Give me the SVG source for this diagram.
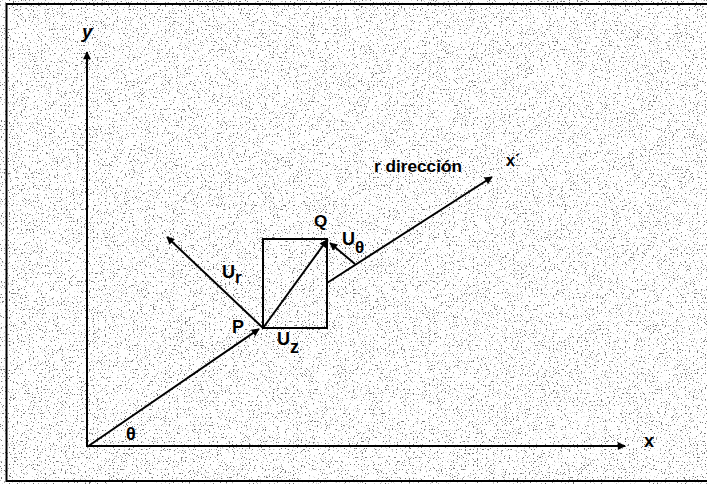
<svg xmlns="http://www.w3.org/2000/svg" width="707" height="484" viewBox="0 0 707 484">
  <style>
    .ln { stroke: #000; stroke-width: 2; fill: none; }
    .lbl { font-family: "Liberation Sans", Arial, sans-serif; font-weight: bold; fill: #000; }
  </style>
  <defs>
    <marker id="arr" viewBox="0 0 10 10" refX="9" refY="5" markerWidth="10" markerHeight="8" markerUnits="userSpaceOnUse" orient="auto">
      <path d="M0,0 L10,5 L0,10 z" fill="#000"/>
    </marker>
    <filter id="noise" x="0" y="0" width="100%" height="100%">
      <feTurbulence type="fractalNoise" baseFrequency="0.75" numOctaves="1" seed="7" result="t"/>
      <feColorMatrix in="t" type="matrix" values="0 0 0 0 0  0 0 0 0 0  0 0 0 0 0  14 0 0 0 -8.6"/>
    </filter>
  </defs>

  <rect id="paper" x="0" y="0" width="707" height="484" fill="#fff"/>
  <rect id="speckle" x="0" y="0" width="707" height="484" fill="#000" filter="url(#noise)" opacity="0.55"/>
  <path id="frame" d="M707,4 H6.5 V481 H707" class="ln" stroke-width="2.5"/>

  <g id="connectors">
    <line id="y-axis" x1="87" y1="447" x2="87" y2="52" class="ln" marker-end="url(#arr)"/>
    <line id="x-axis" x1="87" y1="446" x2="625" y2="446" class="ln" marker-end="url(#arr)"/>
    <line id="op" x1="87" y1="447" x2="259" y2="329" class="ln" marker-end="url(#arr)"/>
    <line id="ur" x1="263" y1="328" x2="167" y2="237" class="ln" marker-end="url(#arr)"/>
    <line id="pq" x1="263" y1="328" x2="327" y2="240" class="ln" marker-end="url(#arr)"/>
    <line id="rdir" x1="327" y1="283" x2="492" y2="177" class="ln" marker-end="url(#arr)"/>
    <line id="utheta" x1="355" y1="264" x2="330" y2="243" class="ln" marker-end="url(#arr)"/>
  </g>

  <g id="square">
    <rect x="263" y="239" width="64" height="89" class="ln"/>
  </g>

  <g id="label-y"><text class="lbl" x="82" y="38" font-size="19" font-style="italic">y</text></g>
  <g id="label-x"><text class="lbl" x="644" y="447" font-size="18">x</text></g>
  <g id="label-theta"><text class="lbl" x="126" y="440" font-size="18">θ</text></g>
  <g id="label-P"><text class="lbl" x="232" y="333" font-size="18">P</text></g>
  <g id="label-Q"><text class="lbl" x="314" y="227" font-size="17">Q</text></g>
  <g id="label-Ur"><text class="lbl" x="222" y="278" font-size="18">U<tspan font-size="17" dy="5">r</tspan></text></g>
  <g id="label-Uz"><text class="lbl" x="277" y="345" font-size="18">U<tspan font-size="18" dy="8">z</tspan></text></g>
  <g id="label-Utheta"><text class="lbl" x="342" y="245" font-size="18">U<tspan font-size="17" dy="8">θ</tspan></text></g>
  <g id="label-rdir"><text class="lbl" x="374" y="172" font-size="16" textLength="88" lengthAdjust="spacingAndGlyphs">r dirección</text></g>
  <g id="label-xprime"><text class="lbl" x="506" y="166" font-size="16">x´</text></g>
</svg>
